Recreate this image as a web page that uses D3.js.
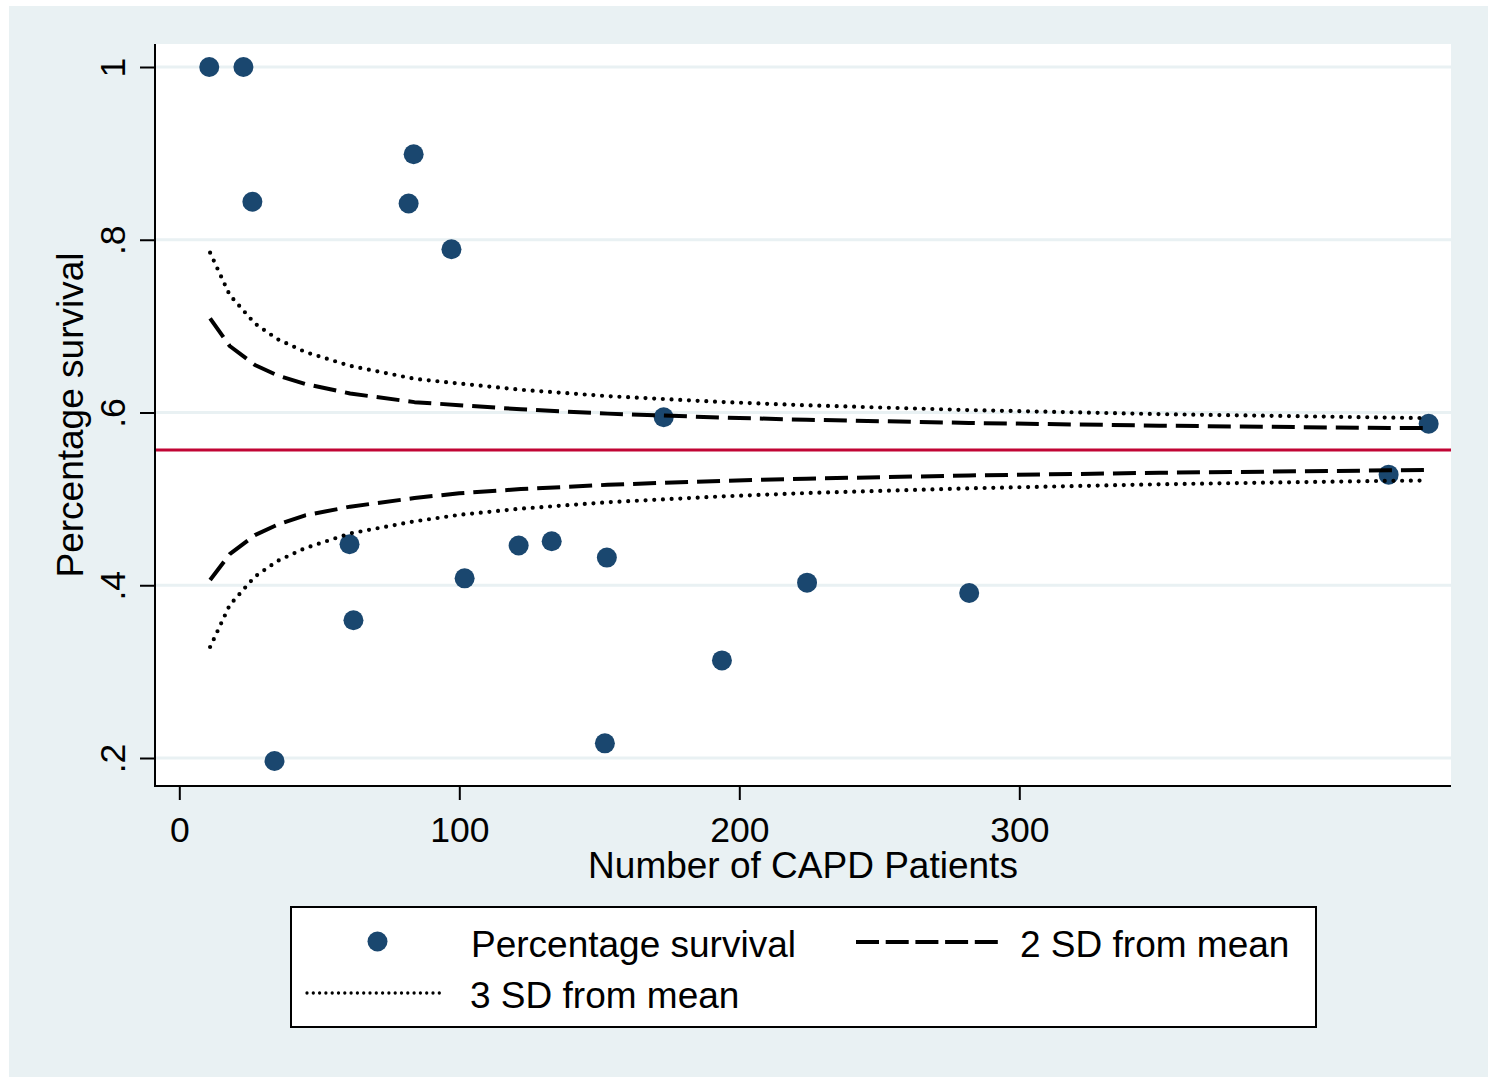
<!DOCTYPE html>
<html>
<head>
<meta charset="utf-8">
<script src="https://cdn.jsdelivr.net/npm/d3@7"></script>
<style>
  html, body { margin: 0; padding: 0; background: #ffffff; }
  svg { display: block; }
  text { font-family: "Liberation Sans", Arial, Helvetica, sans-serif; fill: #000; }
</style>
</head>
<body>
<svg id="chart" width="1488" height="1077"></svg>
<script>
// ---- Data ----
const patients = [10.7, 22.9, 26.1, 34.0, 60.8, 62.2, 81.9, 83.7, 97.2, 101.9, 121.2, 133.0, 152.0, 152.7, 173.0, 193.8, 224.2, 282.1, 431.9, 446.2];
const survival = [1.0, 1.0, 0.844, 0.1965, 0.4475, 0.3595, 0.842, 0.899, 0.789, 0.408, 0.446, 0.451, 0.217, 0.432, 0.5945, 0.313, 0.403, 0.391, 0.528, 0.587];

const meanSurvival = 0.5565;

const curveN  = [11, 18, 27, 35, 45, 61, 84, 100, 122, 153, 194, 224, 282, 350, 432, 446];
const upper2  = [0.709, 0.677, 0.655, 0.643, 0.633, 0.622, 0.612, 0.6085, 0.6037, 0.5987, 0.5941, 0.5916, 0.5879, 0.5848, 0.5820, 0.5820];
const lower2  = [0.406, 0.436, 0.458, 0.470, 0.481, 0.491, 0.501, 0.5065, 0.5113, 0.5163, 0.5209, 0.5234, 0.5271, 0.5302, 0.5330, 0.5335];
const upper3  = [0.785, 0.736, 0.703, 0.685, 0.670, 0.654, 0.639, 0.6335, 0.6263, 0.6189, 0.6121, 0.6083, 0.6028, 0.5981, 0.5941, 0.5935];
const lower3  = [0.3285, 0.377, 0.410, 0.428, 0.443, 0.460, 0.474, 0.4815, 0.4887, 0.4961, 0.5029, 0.5067, 0.5122, 0.5169, 0.5209, 0.5212];

const xTicks = [0, 100, 200, 300];
const yTicks = [0.2, 0.4, 0.6, 0.8, 1.0];
const yTickLabels = [".2", ".4", ".6", ".8", "1"];

const xTitle = "Number of CAPD Patients";
const yTitle = "Percentage survival";
const legendLabels = ["Percentage survival", "2 SD from mean", "3 SD from mean"];

// ---- Layout ----
const W = 1488, H = 1077;
const plot = { left: 155, right: 1451, top: 44, bottom: 786 };
const colors = { bg: "#e9f1f3", grid: "#e9f1f3", marker: "#1a476f", mean: "#c10534" };
const fontSize = 37, tickFont = 35.5;

const svg = d3.select("#chart");

// outer background
svg.append("rect").attr("x", 9).attr("y", 6).attr("width", W - 9).attr("height", H - 6).attr("fill", colors.bg);
// plot region
svg.append("rect").attr("x", plot.left).attr("y", plot.top)
  .attr("width", plot.right - plot.left).attr("height", plot.bottom - plot.top).attr("fill", "#ffffff");

const x = d3.scaleLinear().domain([0, 100]).range([179.3, 459.3]);
const y = d3.scaleLinear().domain([0.2, 1.0]).range([758, 67]);

// grid lines
svg.append("g").selectAll("line").data(yTicks).join("line")
  .attr("x1", plot.left + 1).attr("x2", plot.right)
  .attr("y1", d => y(d)).attr("y2", d => y(d))
  .attr("stroke", colors.grid).attr("stroke-width", 3);

// axes (ticks via d3 axes)
const xAxis = d3.axisBottom(x).tickValues(xTicks).tickSize(14).tickPadding(16).tickFormat(d3.format("d"));
const gx = svg.append("g").attr("transform", `translate(0,${plot.bottom})`).call(xAxis);
gx.select(".domain").remove();
gx.selectAll(".tick line").attr("stroke", "#000").attr("stroke-width", 2);
gx.selectAll(".tick text").attr("font-size", tickFont).attr("font-family", "Liberation Sans, Arial, sans-serif")
  .attr("fill", "#000").attr("dy", null).attr("y", 56);

const yAxis = d3.axisLeft(y).tickValues(yTicks).tickSize(15).tickFormat((d, i) => yTickLabels[i]);
const gy = svg.append("g").attr("transform", `translate(${plot.left},0)`).call(yAxis);
gy.select(".domain").remove();
gy.selectAll(".tick line").attr("stroke", "#000").attr("stroke-width", 2);
gy.selectAll(".tick text")
  .attr("font-size", tickFont).attr("font-family", "Liberation Sans, Arial, sans-serif").attr("fill", "#000")
  .attr("x", null).attr("dy", null)
  .attr("text-anchor", "middle")
  .attr("transform", "translate(-30,0) rotate(-90)");

// axis lines
svg.append("line").attr("x1", plot.left).attr("x2", plot.left).attr("y1", plot.top).attr("y2", plot.bottom + 1)
  .attr("stroke", "#000").attr("stroke-width", 2);
svg.append("line").attr("x1", plot.left).attr("x2", plot.right).attr("y1", plot.bottom).attr("y2", plot.bottom)
  .attr("stroke", "#000").attr("stroke-width", 2);

// axis titles
svg.append("text").attr("x", (plot.left + plot.right) / 2).attr("y", 878)
  .attr("text-anchor", "middle").attr("font-size", fontSize).text(xTitle);
svg.append("text").attr("transform", `translate(83,${(plot.top + plot.bottom) / 2}) rotate(-90)`)
  .attr("text-anchor", "middle").attr("font-size", fontSize).text(yTitle);

// scatter points
svg.append("g").selectAll("circle").data(patients.map((p, i) => [p, survival[i]])).join("circle")
  .attr("cx", d => x(d[0])).attr("cy", d => y(d[1])).attr("r", 10).attr("fill", colors.marker);

// mean line
svg.append("line").attr("x1", plot.left + 1).attr("x2", plot.right)
  .attr("y1", y(meanSurvival)).attr("y2", y(meanSurvival))
  .attr("stroke", colors.mean).attr("stroke-width", 3);

// SD curves
const line = d3.line().x(d => x(d[0])).y(d => y(d[1]));
const dashStyle = { dash: "23 9", width: 4, cap: "butt" };
const dotStyle = { dash: "0 8.7", width: 4.2, cap: "round" };
function curve(vals, st) {
  svg.append("path").datum(curveN.map((n, i) => [n, vals[i]])).attr("d", line)
    .attr("fill", "none").attr("stroke", "#000").attr("stroke-width", st.width)
    .attr("stroke-dasharray", st.dash).attr("stroke-linecap", st.cap).attr("stroke-linejoin", "round");
}
curve(upper2, dashStyle);
curve(lower2, dashStyle);
curve(upper3, dotStyle);
curve(lower3, dotStyle);

// legend
const lg = svg.append("g");
lg.append("rect").attr("x", 291).attr("y", 907).attr("width", 1025).attr("height", 120)
  .attr("fill", "#fff").attr("stroke", "#000").attr("stroke-width", 2);
lg.append("circle").attr("cx", 377.5).attr("cy", 941.5).attr("r", 10).attr("fill", colors.marker);
lg.append("text").attr("x", 471).attr("y", 957).attr("font-size", fontSize).text(legendLabels[0]);
lg.append("line").attr("x1", 856).attr("x2", 998).attr("y1", 942).attr("y2", 942)
  .attr("stroke", "#000").attr("stroke-width", dashStyle.width).attr("stroke-dasharray", "23 6.7");
lg.append("text").attr("x", 1020).attr("y", 957).attr("font-size", fontSize).text(legendLabels[1]);
lg.append("line").attr("x1", 307).attr("x2", 445).attr("y1", 993).attr("y2", 993)
  .attr("stroke", "#000").attr("stroke-width", 3.3).attr("stroke-dasharray", "0 6.3").attr("stroke-linecap", "round");
lg.append("text").attr("x", 470).attr("y", 1008).attr("font-size", fontSize).text(legendLabels[2]);
</script>
</body>
</html>
